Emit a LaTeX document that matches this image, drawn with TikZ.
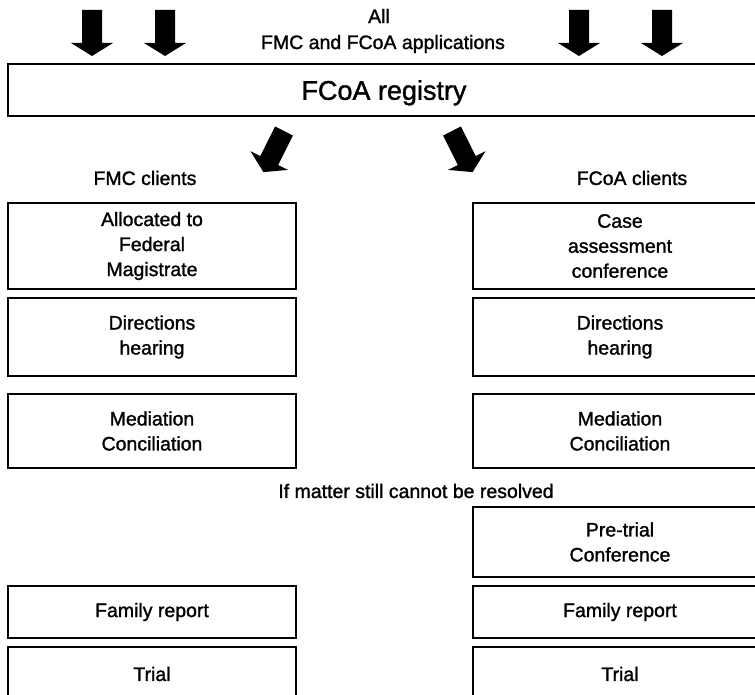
\documentclass[tikz,border=0pt]{standalone}
\usepackage{fontspec}
\setmainfont[FakeBold=1.3]{Liberation Sans}
\begin{document}
\begin{tikzpicture}[x=1pt,y=-1pt,
  txt/.style={align=center,inner sep=0pt,font=\fontsize{19.5}{25}\selectfont},
  box/.style={txt,draw,line width=1.2pt},
  lbox/.style={box,minimum width=288pt},
  rbox/.style={box,minimum width=294pt},
  blockarrow/.pic={\fill (-10,0) -- (10,0) -- (10,33) -- (21,33) -- (0,46) -- (-21,33) -- (-10,33) -- cycle;}
]
\useasboundingbox (0,0) rectangle (755,695);

% incoming arrows
\pic at (92,10) {blockarrow};
\pic at (165,10) {blockarrow};
\pic at (579,10) {blockarrow};
\pic at (662,10) {blockarrow};

\node[txt] (all) at (379,16) {All};
\node[txt] (apps) at (383,44) {FMC and FCoA applications};

\node[box,minimum width=752pt,minimum height=52pt,text depth=0pt,font=\fontsize{27}{30}\selectfont] (reg) at (384,90) {FCoA registry};

% outgoing diagonal arrows
\pic[rotate=-26.6] at (284,131) {blockarrow};
\pic[rotate=26.6] at (452,131) {blockarrow};

\node[txt] (fmc) at (145,178) {FMC clients};
\node[txt] (fcoa) at (632,178) {FCoA clients};

% FMC column
\node[lbox,minimum height=86pt] (l1) at (152,246) {Allocated to\\Federal\\Magistrate};
\node[lbox,minimum height=78pt] (l2) at (152,337) {Directions\\hearing};
\node[lbox,minimum height=74pt] (l3) at (152,431) {Mediation\\Conciliation};
\node[lbox,minimum height=52pt] (l4) at (152,612) {Family report};
\node[lbox,minimum height=54pt] (l5) at (152,674) {Trial};

% FCoA column
\node[rbox,minimum height=86pt] (r1) at (620,246) {Case\\assessment\\conference};
\node[rbox,minimum height=78pt] (r2) at (620,337) {Directions\\hearing};
\node[rbox,minimum height=74pt] (r3) at (620,431) {Mediation\\Conciliation};
\node[rbox,minimum height=70pt] (r4) at (620,542) {Pre-trial\\Conference};
\node[rbox,minimum height=52pt] (r5) at (620,612) {Family report};
\node[rbox,minimum height=54pt] (r6) at (620,674) {Trial};

\node[txt] (still) at (416,491) {If matter still cannot be resolved};
\end{tikzpicture}
\end{document}
